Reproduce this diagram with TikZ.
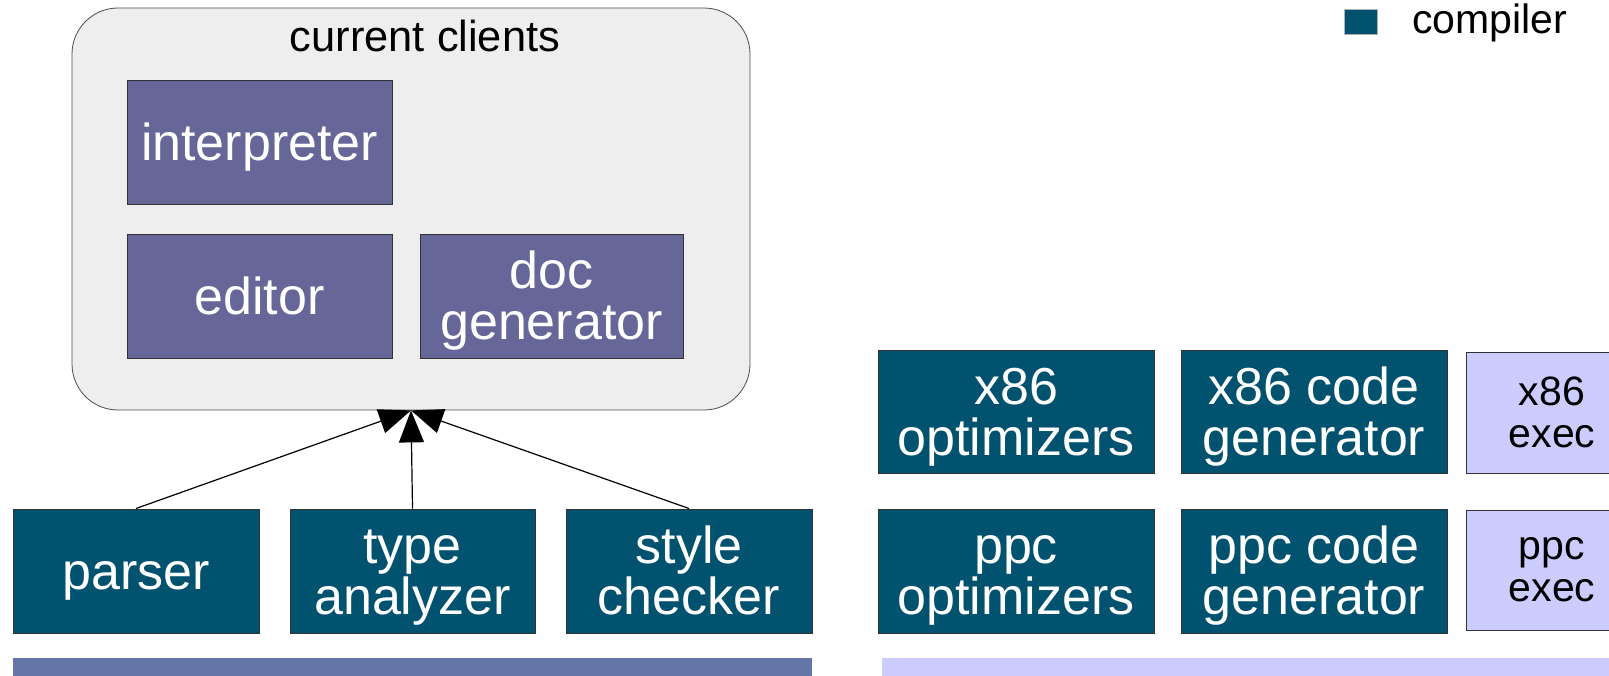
\documentclass[tikz,border=0pt]{standalone}
\usepackage{fontspec}
\setmainfont{Liberation Sans}
\usetikzlibrary{arrows.meta,shadows}

\definecolor{compilerblue}{HTML}{01526F}
\definecolor{clientpurple}{HTML}{666699}
\definecolor{execlilac}{HTML}{CCCCFF}
\definecolor{clientsgray}{HTML}{EEEEEE}
\definecolor{basebar}{HTML}{6475A7}

\newcommand{\bigfont}{\fontsize{26}{25.5}\selectfont\lineskiplimit=-100pt}
\newcommand{\smallfont}{\fontsize{20.5}{21}\selectfont}
\newcommand{\titlefont}{\fontsize{21.7}{23}\selectfont}
\newcommand{\tstrut}{\rule[-0.212em]{0pt}{1.117em}}

\tikzset{
  comp/.style={draw=black!80, line width=0.5pt, fill=compilerblue, text=white,
    align=center, inner sep=0pt, font=\bigfont, minimum height=62pt,
    drop shadow={shadow xshift=0.7pt, shadow yshift=-0.7pt, fill=black!45}},
  client/.style={comp, fill=clientpurple},
  exec/.style={comp, fill=execlilac, text=black, font=\smallfont},
  link/.style={line width=0.6pt, -{Triangle[length=16pt,width=12.5pt]}}
}

\begin{document}
\begin{tikzpicture}[x=0.5pt,y=-0.5pt]
\useasboundingbox (0,0) rectangle (1609,675);
\clip (0,0) rectangle (1609,675);

% current clients
\node[draw=black!70, fill=clientsgray, rounded corners=23pt, inner sep=0pt,
      minimum width=339pt, minimum height=201pt] (clients) at (411,209) {};
\node[font=\titlefont, anchor=base, inner sep=0pt] (clientstitle) at (425,51) {current clients};

\node[client, minimum width=132.5pt] (interp) at (259.5,142) {\tstrut interpreter};
\node[client, minimum width=132.5pt] (editor) at (259.5,296) {\tstrut editor};
\node[client, minimum width=131.5pt] (docgen) at (551.5,296) {\tstrut doc\\\tstrut generator};

% front end
\node[comp, minimum width=123pt] (parser) at (136,571) {\tstrut parser};
\node[comp, minimum width=122.5pt] (typean) at (412.5,571) {\tstrut type\\\tstrut analyzer};
\node[comp, minimum width=123pt] (stylechk) at (689,571) {\tstrut style\\\tstrut checker};

% back ends
\node[comp, minimum width=138pt, minimum height=61.5pt] (xopt) at (1016,411.5) {\tstrut x86\\\tstrut optimizers};
\node[comp, minimum width=133pt, minimum height=61.5pt] (xgen) at (1314,411.5) {\tstrut x86 code\\\tstrut generator};
\node[exec, minimum width=86pt, minimum height=60.5pt] (xexec) at (1552,412.5) {x86\\exec};

\node[comp, minimum width=138pt] (popt) at (1016,571) {\tstrut ppc\\\tstrut optimizers};
\node[comp, minimum width=133pt] (pgen) at (1314,571) {\tstrut ppc code\\\tstrut generator};
\node[exec, minimum width=86pt, minimum height=60pt] (pexec) at (1552,570) {ppc\\exec};

% base layers
\fill[basebar] (13,658) rectangle (812,690);
\fill[execlilac] (882,658) rectangle (1640,690);

% legend
\node[fill=compilerblue, draw=black!30, line width=0.4pt, inner sep=0pt,
      minimum width=16.5pt, minimum height=12.5pt] (legendkey) at (1360.5,21.5) {};
\node[font=\smallfont, anchor=base west, inner sep=0pt] (legendtext) at (1412,33) {compiler};

\draw[link] (parser.north) -- (clients.south);
\draw[link] (typean.north) -- (clients.south);
\draw[link] (stylechk.north) -- (clients.south);
\end{tikzpicture}
\end{document}
